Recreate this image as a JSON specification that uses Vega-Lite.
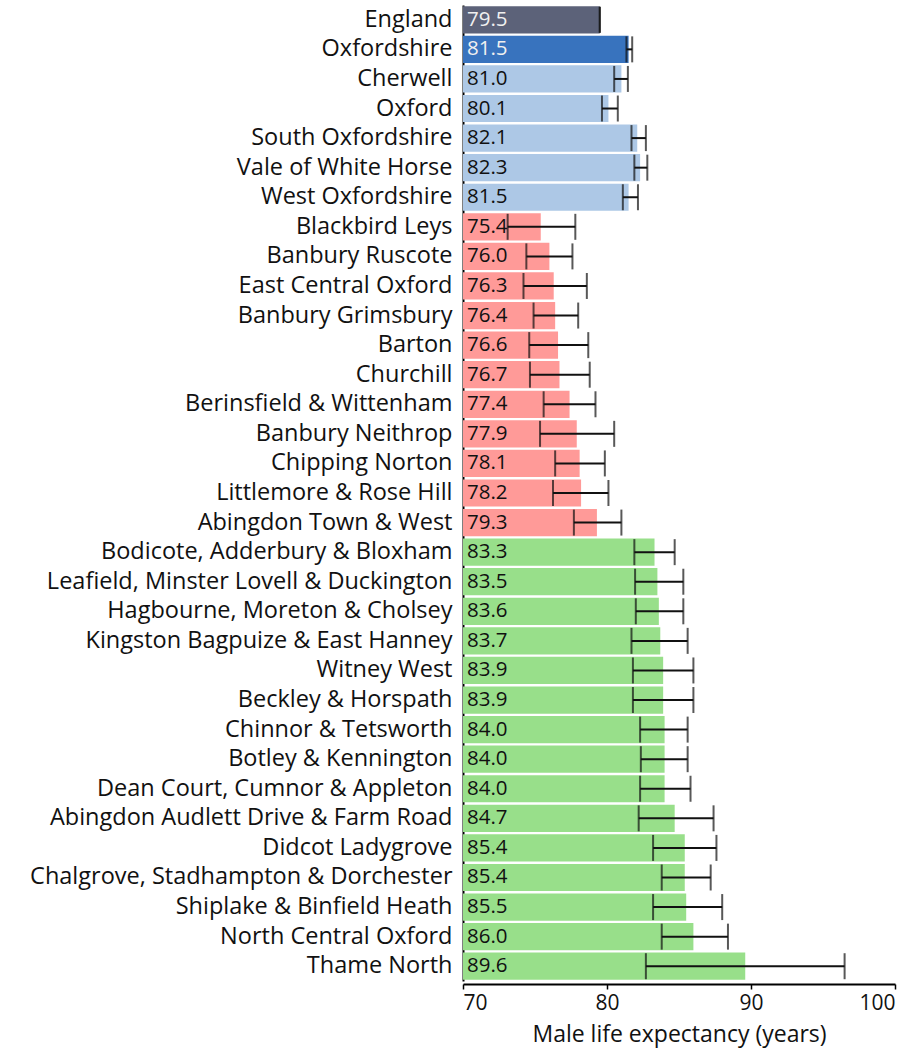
{
  "$schema": "https://vega.github.io/schema/vega-lite/v6.json",
  "width": 432,
  "height": 976,
  "autosize": {"type": "none"},
  "padding": {"left": 463, "top": 5, "right": 22, "bottom": 67},
  "background": "white",
  "config": {
    "view": {"stroke": null},
    "font": "Open Sans",
    "axis": {"grid": false}
  },
  "data": {
    "values": [
      {"name": "England", "value": 79.5, "lo": 79.5, "hi": 79.5, "group": "England"},
      {"name": "Oxfordshire", "value": 81.5, "lo": 81.35, "hi": 81.75, "group": "Oxfordshire"},
      {"name": "Cherwell", "value": 81.0, "lo": 80.5, "hi": 81.45, "group": "District"},
      {"name": "Oxford", "value": 80.1, "lo": 79.65, "hi": 80.75, "group": "District"},
      {"name": "South Oxfordshire", "value": 82.1, "lo": 81.7, "hi": 82.7, "group": "District"},
      {"name": "Vale of White Horse", "value": 82.3, "lo": 81.9, "hi": 82.8, "group": "District"},
      {"name": "West Oxfordshire", "value": 81.5, "lo": 81.1, "hi": 82.15, "group": "District"},
      {"name": "Blackbird Leys", "value": 75.4, "lo": 73.1, "hi": 77.8, "group": "Low"},
      {"name": "Banbury Ruscote", "value": 76.0, "lo": 74.4, "hi": 77.6, "group": "Low"},
      {"name": "East Central Oxford", "value": 76.3, "lo": 74.2, "hi": 78.6, "group": "Low"},
      {"name": "Banbury Grimsbury", "value": 76.4, "lo": 74.9, "hi": 78.0, "group": "Low"},
      {"name": "Barton", "value": 76.6, "lo": 74.6, "hi": 78.7, "group": "Low"},
      {"name": "Churchill", "value": 76.7, "lo": 74.65, "hi": 78.8, "group": "Low"},
      {"name": "Berinsfield & Wittenham", "value": 77.4, "lo": 75.6, "hi": 79.2, "group": "Low"},
      {"name": "Banbury Neithrop", "value": 77.9, "lo": 75.35, "hi": 80.5, "group": "Low"},
      {"name": "Chipping Norton", "value": 78.1, "lo": 76.4, "hi": 79.85, "group": "Low"},
      {"name": "Littlemore & Rose Hill", "value": 78.2, "lo": 76.25, "hi": 80.1, "group": "Low"},
      {"name": "Abingdon Town & West", "value": 79.3, "lo": 77.7, "hi": 81.0, "group": "Low"},
      {"name": "Bodicote, Adderbury & Bloxham", "value": 83.3, "lo": 81.9, "hi": 84.7, "group": "High"},
      {"name": "Leafield, Minster Lovell & Duckington", "value": 83.5, "lo": 81.95, "hi": 85.3, "group": "High"},
      {"name": "Hagbourne, Moreton & Cholsey", "value": 83.6, "lo": 82.0, "hi": 85.3, "group": "High"},
      {"name": "Kingston Bagpuize & East Hanney", "value": 83.7, "lo": 81.7, "hi": 85.6, "group": "High"},
      {"name": "Witney West", "value": 83.9, "lo": 81.8, "hi": 86.0, "group": "High"},
      {"name": "Beckley & Horspath", "value": 83.9, "lo": 81.8, "hi": 86.0, "group": "High"},
      {"name": "Chinnor & Tetsworth", "value": 84.0, "lo": 82.3, "hi": 85.6, "group": "High"},
      {"name": "Botley & Kennington", "value": 84.0, "lo": 82.35, "hi": 85.6, "group": "High"},
      {"name": "Dean Court, Cumnor & Appleton", "value": 84.0, "lo": 82.3, "hi": 85.8, "group": "High"},
      {"name": "Abingdon Audlett Drive & Farm Road", "value": 84.7, "lo": 82.2, "hi": 87.4, "group": "High"},
      {"name": "Didcot Ladygrove", "value": 85.4, "lo": 83.2, "hi": 87.6, "group": "High"},
      {"name": "Chalgrove, Stadhampton & Dorchester", "value": 85.4, "lo": 83.8, "hi": 87.2, "group": "High"},
      {"name": "Shiplake & Binfield Heath", "value": 85.5, "lo": 83.2, "hi": 88.0, "group": "High"},
      {"name": "North Central Oxford", "value": 86.0, "lo": 83.8, "hi": 88.4, "group": "High"},
      {"name": "Thame North", "value": 89.6, "lo": 82.7, "hi": 96.5, "group": "High"}
    ]
  },
  "encoding": {
    "y": {
      "field": "name",
      "type": "nominal",
      "sort": null,
      "title": null,
      "scale": {"paddingInner": 0.08, "paddingOuter": 0.04},
      "axis": {
        "ticks": false,
        "domainColor": "#000000",
        "domainWidth": 2,
        "labelFontSize": 23.5,
        "labelColor": "#111111",
        "labelPadding": 11,
        "labelLimit": 0
      }
    }
  },
  "layer": [
    {
      "mark": {"type": "bar"},
      "encoding": {
        "x": {
          "field": "value",
          "type": "quantitative",
          "scale": {"domain": [70, 100], "zero": false, "nice": false},
          "title": "Male life expectancy (years)",
          "axis": {
            "values": [70, 80, 90, 100],
            "offset": 3,
            "domainColor": "#000000",
            "domainWidth": 2,
            "tickColor": "#000000",
            "tickWidth": 1.5,
            "tickSize": 5,
            "labelFontSize": 21,
            "labelColor": "#111111",
            "labelPadding": 3,
            "titleFontSize": 23,
            "titleFontWeight": "normal",
            "titleColor": "#111111",
            "titlePadding": 10
          }
        },
        "x2": {"datum": 70},
        "color": {
          "field": "group",
          "type": "nominal",
          "legend": null,
          "scale": {
            "domain": ["England", "Oxfordshire", "District", "Low", "High"],
            "range": ["#5c6279", "#3873be", "#adc8e6", "#ff9a98", "#98df8a"]
          }
        }
      }
    },
    {
      "mark": {"type": "text", "align": "left", "baseline": "middle", "dx": 4, "fontSize": 20.5},
      "encoding": {
        "x": {"datum": 70},
        "text": {"field": "value", "type": "quantitative", "format": ".1f"},
        "color": {
          "condition": {"test": "datum.group === 'England' || datum.group === 'Oxfordshire'", "value": "#f0f0f0"},
          "value": "#111111"
        }
      }
    },
    {
      "mark": {"type": "rule", "color": "#111111", "strokeWidth": 2},
      "encoding": {
        "x": {"field": "lo", "type": "quantitative"},
        "x2": {"field": "hi"}
      }
    },
    {
      "mark": {"type": "tick", "color": "#111111", "thickness": 2, "size": 26},
      "encoding": {
        "x": {"field": "lo", "type": "quantitative"}
      }
    },
    {
      "mark": {"type": "tick", "color": "#111111", "thickness": 2, "size": 26},
      "encoding": {
        "x": {"field": "hi", "type": "quantitative"}
      }
    }
  ]
}
